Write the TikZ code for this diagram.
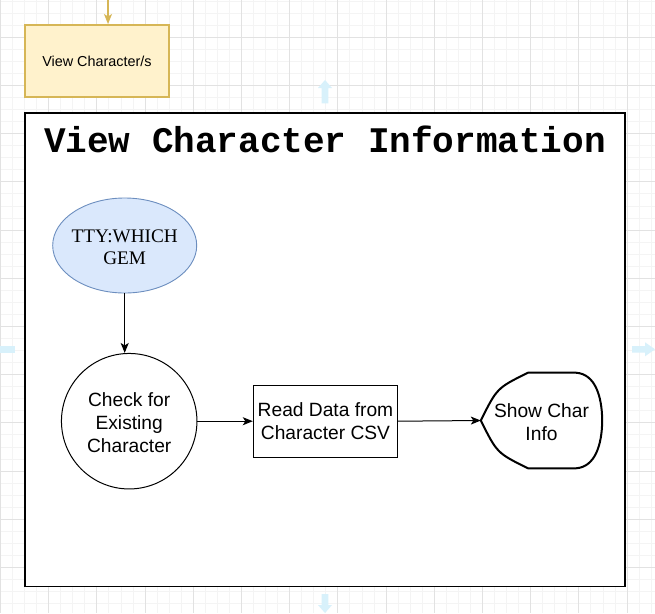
\documentclass[tikz,border=0pt]{standalone}
\usepackage{fontspec}
\setmainfont{Liberation Sans}
\newfontfamily\serifface{Liberation Serif}
\newfontfamily\monoface{Liberation Mono}
\usetikzlibrary{arrows.meta,shapes.geometric}
\definecolor{gold}{HTML}{D6B656}
\definecolor{goldfill}{HTML}{FFF2CC}
\definecolor{bluefill}{HTML}{DAE8FC}
\definecolor{bluestroke}{HTML}{6C8EBF}
\definecolor{gridminor}{HTML}{F4F4F4}
\definecolor{gridmajor}{HTML}{E2E2E2}
\definecolor{hint}{HTML}{D8F1FB}
\tikzset{
  txt/.style={align=center,font=\fontsize{19.2}{22.8}\selectfont,inner sep=0pt},
  arr/.style={draw=black,line width=1pt,-{Stealth[length=10pt,width=8pt,inset=2.5pt]}},
  hintarrow/.style={fill=hint,draw=none}
}
\begin{document}
\begin{tikzpicture}[x=1pt,y=-1pt]
\useasboundingbox (0,0) rectangle (655,613);
\fill[white] (0,0) rectangle (655,613);
% grid
\foreach \i in {0,...,54} \draw[gridminor,line width=1pt] ({0.5+12.05*\i},0) -- ++(0,613);
\foreach \i in {0,...,51} \draw[gridminor,line width=1pt] (0,{1.15+12.05*\i}) -- ++(655,0);
\foreach \i in {0,...,13} \draw[gridmajor,line width=1pt] ({0.5+48.2*\i},0) -- ++(0,613);
\foreach \i in {1,...,13} \draw[gridmajor,line width=1pt] (0,{-10.9+48.2*\i}) -- ++(655,0);
% hint arrows
\fill[hintarrow] (321.7,103.3) -- (321.7,88) -- (318,88) -- (325,80) -- (332,88) -- (328.3,88) -- (328.3,103.3) -- cycle;
\fill[hintarrow] (632,346) -- (645,346) -- (645,342.3) -- (655,349.3) -- (645,356.3) -- (645,352.6) -- (632,352.6) -- cycle;
\fill[hintarrow] (0,346) rectangle (15,352.6);
\fill[hintarrow] (321.7,594) -- (321.7,605) -- (318,605) -- (325,613) -- (332,605) -- (328.3,605) -- (328.3,594) -- cycle;
% top box
\coordinate (topin) at (108,0);
\node[draw=gold,fill=goldfill,line width=2pt,minimum width=144pt,minimum height=72pt,inner sep=0pt,
  font=\fontsize{14.4}{17}\selectfont] (viewchar) at (97,61) {View Character/s};
\draw[draw=gold,line width=1.2pt,-{Stealth[length=10pt,width=8pt,inset=2.5pt]}] (topin) -- (topin |- viewchar.north);
% container
\node[draw=black,fill=white,line width=1.5pt,minimum width=600pt,minimum height=473.5pt,inner sep=0pt] (frame) at (325,349.7) {};
\node[anchor=base,inner sep=0pt,font=\monoface\bfseries\fontsize{36}{40}\selectfont] (title) at (325,152.7) {View Character Information};
% nodes
\node[ellipse,draw=bluestroke,fill=bluefill,line width=0.9pt,minimum width=144pt,minimum height=95pt,inner sep=0pt] (gem) at (124.7,245.5) {};
\node[align=center,inner sep=0pt,font=\serifface\fontsize{19.2}{22.5}\selectfont] (gemtext) at (124.7,247) {TTY:WHICH\\GEM};
\node[circle,draw=black,line width=1pt,minimum size=135.5pt,inner sep=0pt] (check) at (129.2,421.2) {};
\node[txt] (checktext) at (129.2,422.6) {Check for\\Existing\\Character};
\node[draw=black,line width=1pt,minimum width=144.4pt,minimum height=72.3pt,txt] (read) at (325.5,421.2) {Read Data from\\Character CSV};
\node[minimum width=121pt,minimum height=97pt,inner sep=0pt] (show) at (541.5,420.5) {};
\node[txt] (showtext) at (541.5,422.5) {Show Char\\Info};
\draw[line width=2pt,line join=round] (show.west) .. controls (497,388) .. (528,372.7) -- (576,372.7)
  .. controls (595,374) and (602,396) .. (show.east)
  .. controls (602,445) and (595,467) .. (576,468.3) -- (528,468.3)
  .. controls (497,453) .. (show.west) -- cycle;
% connectors
\draw[arr] (gem.south) -- (gem.south |- check.north);
\draw[arr] (check.east) -- (read.west);
\draw[arr] (read.east) -- (show.west);
\end{tikzpicture}
\end{document}
